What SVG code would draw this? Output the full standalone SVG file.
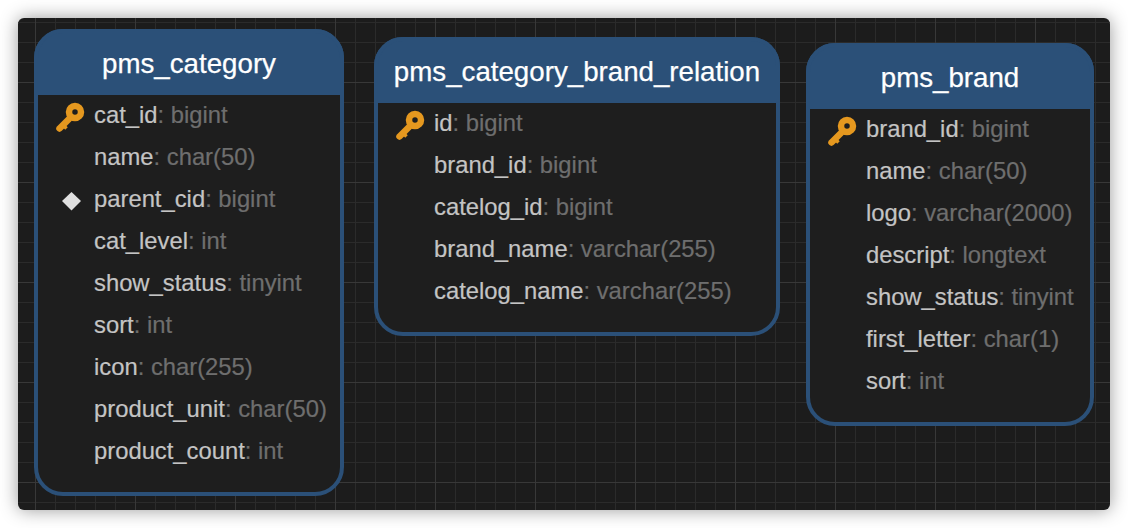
<svg xmlns="http://www.w3.org/2000/svg" width="1128" height="528" viewBox="0 0 1128 528">
<style>
.title{font:27.7px "Liberation Sans",Arial,sans-serif;fill:#fff;stroke:#fff;stroke-width:.25}
.title{text-anchor:middle}
.row{font:23.8px "Liberation Sans",Arial,sans-serif;fill:#c4c4c4;stroke:#c4c4c4;stroke-width:.2}
.row tspan{fill:#6e6e6e;stroke:#6e6e6e}
.box{fill:#1e1e1e;stroke:#2b5078;stroke-width:4}
.head{fill:#2b5078}
.body{fill:#1e1e1e}
</style>
<defs>
<filter id="sh" x="-5%" y="-10%" width="110%" height="120%"><feDropShadow dx="0" dy="0" stdDeviation="9" flood-color="#000" flood-opacity="0.4"/></filter>
<filter id="soft" x="-30%" y="-30%" width="160%" height="160%"><feGaussianBlur stdDeviation="0.7"/></filter>
<pattern id="g" width="100" height="100" patternUnits="userSpaceOnUse" x="35" y="82"><path d="M20.500 0V100M40.500 0V100M60.500 0V100M80.500 0V100M0 20.500H100M0 40.500H100M0 60.500H100M0 80.500H100" stroke="#2b2b2b" fill="none"/><path d="M.5 0V100M0 .5H100" stroke="#383838" fill="none"/></pattern>
<g id="key"><path d="M-10.500 11.500L-1 2" stroke="#e5981f" stroke-width="6.500" stroke-linecap="round" fill="none"/><path d="M-6.500 8.500L-3.500 11.500" stroke="#e5981f" stroke-width="3.500" fill="none"/><circle cx="5" cy="-5" r="6" fill="none" stroke="#e5981f" stroke-width="6.500"/></g>
</defs>
<rect width="1128" height="528" fill="#fff"/>
<rect id="bg" x="18" y="18" width="1092" height="492" rx="6" fill="#1e1e1e" filter="url(#sh)"/>
<rect x="18" y="18" width="1092" height="492" rx="6" fill="url(#g)"/>
<g id="connectors"/>
<g id="pms_category">
<rect class="box" x="36" y="31" width="306" height="463" rx="27"/>
<path class="head" d="M36 95V58a27 27 0 0 1 27-27H315a27 27 0 0 1 27 27V95Z" stroke="#2b5078" stroke-width="4"/>
<rect class="body" x="38" y="95" width="302" height="20"/>
<text class="title" x="189" y="73">pms_category</text>
<use href="#key" x="70" y="117"/>
<path d="M71.500 192L81 201L71.500 210.500L62 201Z" fill="#e0e0e0" filter="url(#soft)"/>
<text class="row" x="94" y="123">cat_id<tspan>: bigint</tspan></text>
<text class="row" x="94" y="165">name<tspan>: char(50)</tspan></text>
<text class="row" x="94" y="207">parent_cid<tspan>: bigint</tspan></text>
<text class="row" x="94" y="249">cat_level<tspan>: int</tspan></text>
<text class="row" x="94" y="291">show_status<tspan>: tinyint</tspan></text>
<text class="row" x="94" y="333">sort<tspan>: int</tspan></text>
<text class="row" x="94" y="375">icon<tspan>: char(255)</tspan></text>
<text class="row" x="94" y="417">product_unit<tspan>: char(50)</tspan></text>
<text class="row" x="94" y="459">product_count<tspan>: int</tspan></text>
</g>
<g id="pms_category_brand_relation">
<rect class="box" x="376" y="39" width="402" height="295" rx="27"/>
<path class="head" d="M376 103V66a27 27 0 0 1 27-27H751a27 27 0 0 1 27 27V103Z" stroke="#2b5078" stroke-width="4"/>
<rect class="body" x="378" y="103" width="398" height="20"/>
<text class="title" x="577" y="81">pms_category_brand_relation</text>
<use href="#key" x="410" y="125"/>
<text class="row" x="434" y="131">id<tspan>: bigint</tspan></text>
<text class="row" x="434" y="173">brand_id<tspan>: bigint</tspan></text>
<text class="row" x="434" y="215">catelog_id<tspan>: bigint</tspan></text>
<text class="row" x="434" y="257">brand_name<tspan>: varchar(255)</tspan></text>
<text class="row" x="434" y="299">catelog_name<tspan>: varchar(255)</tspan></text>
</g>
<g id="pms_brand">
<rect class="box" x="808" y="45" width="284" height="379" rx="27"/>
<path class="head" d="M808 109V72a27 27 0 0 1 27-27H1065a27 27 0 0 1 27 27V109Z" stroke="#2b5078" stroke-width="4"/>
<rect class="body" x="810" y="109" width="280" height="20"/>
<text class="title" x="950" y="87">pms_brand</text>
<use href="#key" x="842" y="131"/>
<text class="row" x="866" y="137">brand_id<tspan>: bigint</tspan></text>
<text class="row" x="866" y="179">name<tspan>: char(50)</tspan></text>
<text class="row" x="866" y="221">logo<tspan>: varchar(2000)</tspan></text>
<text class="row" x="866" y="263">descript<tspan>: longtext</tspan></text>
<text class="row" x="866" y="305">show_status<tspan>: tinyint</tspan></text>
<text class="row" x="866" y="347">first_letter<tspan>: char(1)</tspan></text>
<text class="row" x="866" y="389">sort<tspan>: int</tspan></text>
</g>
</svg>
